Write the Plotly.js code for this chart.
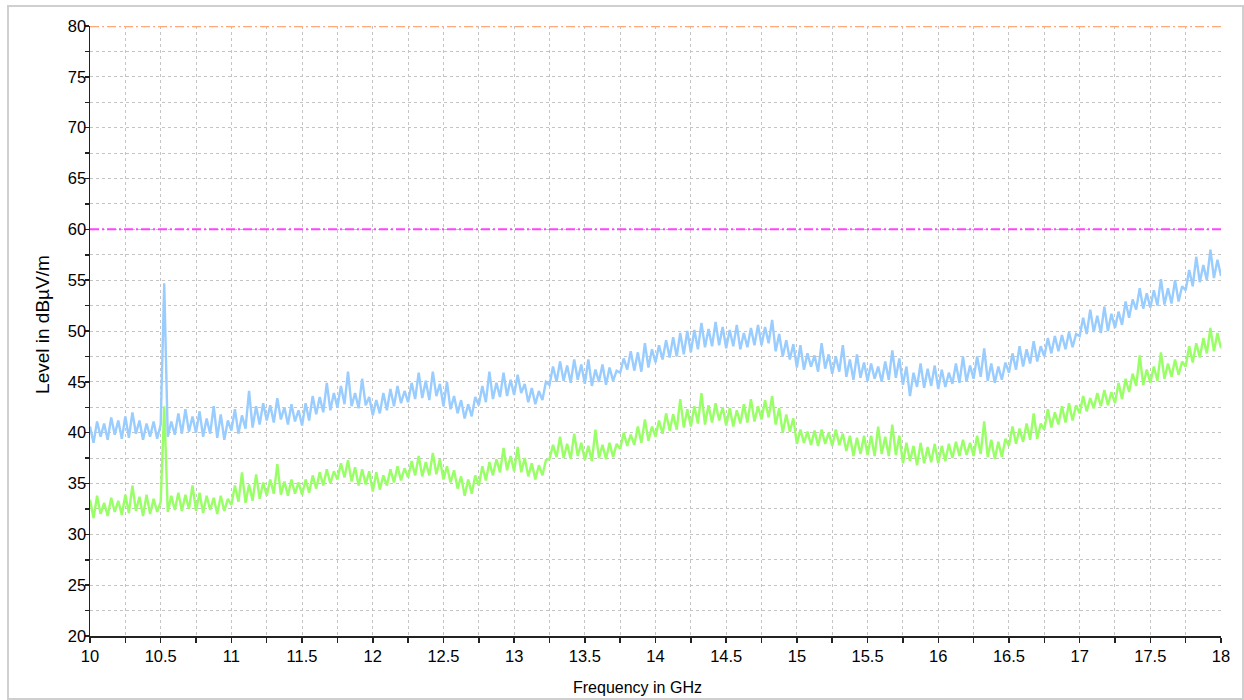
<!DOCTYPE html>
<html>
<head>
<meta charset="utf-8">
<script src="https://cdn.plot.ly/plotly-3.0.1.min.js"></script>
<style>
  html, body { margin: 0; padding: 0; background: #ffffff; }
  #wrap { position: relative; width: 1244px; height: 700px; overflow: hidden; }
  #chart { position: absolute; left: 0; top: 0; width: 1244px; height: 700px; }
  #frame { position: absolute; left: 7px; top: 5px; width: 1233px; height: 691px;
           border: 2px solid #cfcfcf; pointer-events: none; }
</style>
</head>
<body>
<div id="wrap">
  <div id="chart"></div>
  <div id="frame"></div>
</div>
<script>
// Sweep grid: 10 GHz to 18 GHz, one reading every 25 MHz
const freqStartGHz = 10;
const freqStepGHz = 0.025;

// Peak detector trace (dBµV/m), ten readings per 0.25 GHz
const peakLevel = [
  40.6, 39.0, 41.1, 39.6, 40.9, 39.3, 41.5, 39.8, 41.2, 39.4,
  41.6, 39.5, 42.0, 39.9, 41.2, 39.3, 40.9, 39.6, 41.1, 39.4,
  40.8, 54.7, 39.6, 41.1, 39.8, 41.9, 39.9, 42.3, 40.1, 41.6,
  40.0, 42.1, 39.6, 41.4, 39.9, 42.6, 39.5, 41.8, 39.3, 41.2,
  40.2, 42.3, 39.9, 41.7, 40.4, 44.1, 40.5, 42.6, 40.8, 42.9,
  41.2, 42.7, 41.0, 43.4, 41.3, 42.5, 40.8, 42.8, 41.1, 42.2,
  40.7, 42.9, 41.2, 43.6, 41.8, 43.5, 42.0, 44.9, 42.2, 43.9,
  42.5, 44.6, 42.8, 46.0, 42.6, 43.9, 42.4, 45.3, 42.7, 43.5,
  41.7, 43.2, 41.9, 43.9, 42.2, 44.3, 42.6, 44.6, 42.9, 44.1,
  43.0, 44.9, 43.3, 45.9, 43.4, 45.1, 43.2, 46.0, 43.6, 44.8,
  42.6, 45.0, 42.3, 43.6, 41.9, 43.2, 41.4, 42.8, 41.6, 43.5,
  42.7, 44.6, 43.0, 46.0, 43.3, 44.9, 43.5, 45.9, 43.6, 45.2,
  43.7, 45.7, 43.9, 44.8, 43.0, 44.4, 42.8, 44.1, 43.2, 45.0,
  44.7, 46.5, 45.0, 47.0, 45.1, 46.6, 44.9, 47.2, 45.2, 46.7,
  44.8, 47.2, 44.6, 46.2, 45.0, 46.7, 44.7, 46.4, 45.1, 46.1,
  45.9, 47.3, 46.2, 48.0, 46.1, 47.9, 46.0, 48.8, 46.4, 48.2,
  46.9, 48.6, 47.2, 49.1, 47.4, 49.4, 47.5, 49.8, 47.7, 50.0,
  47.9, 50.1, 48.2, 50.8, 48.4, 50.2, 48.5, 50.9, 48.6, 50.4,
  48.3, 50.1, 48.5, 50.6, 48.2, 49.8, 48.4, 50.3, 48.6, 50.6,
  48.6, 50.4, 48.8, 51.1, 48.0, 49.7, 47.5, 49.1, 47.2, 48.7,
  46.4, 48.6, 46.2, 47.8, 46.5, 47.6, 46.0, 48.8, 46.3, 47.7,
  45.8, 47.5, 46.0, 48.6, 45.5, 47.2, 45.2, 47.7, 45.4, 46.9,
  45.1, 46.8, 45.3, 46.5, 45.0, 47.0, 45.2, 48.1, 45.4, 47.3,
  44.7, 46.5, 43.6, 45.9, 44.5, 46.8, 44.4, 46.3, 44.6, 46.6,
  44.3, 46.2, 44.5, 45.9, 44.8, 46.8, 44.9, 47.5, 45.0, 46.6,
  45.3, 47.5, 45.5, 48.3, 45.1, 46.8, 44.9, 46.5, 45.2, 46.9,
  45.9, 47.8, 46.2, 48.5, 46.5, 48.2, 46.8, 49.0, 47.0, 48.5,
  47.5, 49.3, 47.8, 49.5, 48.0, 49.6, 48.2, 49.9, 48.4, 49.7,
  49.5, 51.3, 49.7, 52.1, 49.9, 51.5, 49.8, 52.4, 50.0, 51.7,
  50.3, 51.9, 50.6, 52.9, 51.3, 53.1, 52.1, 54.2, 52.2, 53.7,
  52.3, 54.0, 52.5, 55.1, 52.6, 54.2, 52.7, 55.0, 52.9, 54.4,
  54.0, 56.0, 54.4, 57.3, 54.8, 56.5, 55.0, 58.0, 55.2, 57.0,
  55.4
];

// Average detector trace (dBµV/m), same sweep grid
const averageLevel = [
  33.4, 31.6, 33.8, 32.0, 33.1, 31.8, 33.6, 32.2, 33.3, 31.9,
  33.9, 32.1, 34.8, 32.3, 33.7, 31.8, 33.9, 32.0, 33.5, 32.2,
  33.2, 42.6, 32.2, 33.8, 32.4, 34.1, 32.3, 33.9, 32.5, 34.8,
  32.3, 34.1, 32.1, 33.8, 32.4, 33.6, 32.0, 33.8, 32.3, 33.5,
  32.9, 34.8, 33.2, 36.1, 33.1, 34.9, 33.3, 35.9, 33.5, 35.1,
  33.8, 35.4, 34.0, 36.9, 33.9, 35.2, 33.8, 35.4, 34.0, 35.1,
  33.9, 35.4, 34.1, 35.8, 34.5, 36.1, 34.8, 36.4, 35.0, 36.2,
  35.4, 37.0, 35.6, 37.3, 35.2, 36.6, 34.8, 36.4, 34.9, 36.2,
  34.2, 36.1, 34.4, 35.8, 34.8, 36.4, 35.1, 36.7, 35.3, 36.5,
  35.6, 37.2, 35.8, 37.7, 35.7, 37.1, 35.8, 38.0, 35.9, 37.4,
  35.4, 36.7, 35.1, 36.3, 34.5, 35.7, 33.8, 35.4, 34.0, 35.8,
  34.8, 36.7, 35.3, 37.1, 35.8, 37.4, 36.1, 38.5, 36.3, 37.7,
  36.2, 38.6, 36.1, 37.5, 35.7, 37.0, 35.4, 36.8, 35.8, 37.3,
  37.4, 38.8, 37.6, 39.6, 37.5, 38.9, 37.4, 39.9, 37.7, 39.0,
  37.3, 38.7, 37.2, 40.3, 37.5, 38.8, 37.4, 39.0, 37.6, 38.9,
  38.4, 40.0, 38.7, 39.8, 38.8, 40.6, 39.0, 41.3, 39.2, 40.6,
  39.6, 41.2, 39.9, 41.9, 40.2, 41.8, 40.3, 43.3, 40.5, 42.3,
  40.6, 42.6, 40.9, 43.9, 40.8, 42.7, 41.0, 42.9, 41.2, 42.5,
  40.7, 42.4, 40.6, 42.2, 40.9, 42.8, 41.0, 43.3, 41.1, 42.6,
  41.3, 43.2, 41.5, 43.6, 40.8, 42.4, 40.0, 41.8, 40.1, 41.4,
  38.9, 40.3, 39.0, 40.1, 38.8, 40.2, 38.7, 40.3, 38.9, 40.0,
  38.7, 40.3, 38.8, 39.9, 38.2, 39.7, 37.7, 39.5, 37.9, 39.7,
  37.8, 39.7, 37.7, 40.6, 37.9, 39.6, 37.7, 40.8, 37.8, 39.7,
  37.0, 39.0, 37.2, 38.7, 36.8, 39.0, 37.0, 38.6, 37.1, 38.9,
  37.0, 38.7, 37.2, 38.9, 37.5, 39.1, 37.7, 39.3, 37.8, 39.0,
  37.7, 39.7, 37.9, 41.1, 37.6, 39.3, 37.4, 39.1, 37.6, 39.4,
  38.7, 40.6, 38.9, 40.4, 39.1, 40.9, 39.3, 41.9, 39.4, 40.9,
  40.3, 42.3, 40.5, 42.0, 40.8, 42.6, 41.0, 42.9, 41.2, 42.7,
  41.9, 43.6, 42.1, 43.4, 42.4, 43.9, 42.6, 44.2, 42.7, 44.0,
  42.9, 44.9, 43.3, 45.3, 44.0, 45.8, 44.6, 47.6, 44.7, 46.2,
  44.9, 46.5, 45.1, 47.9, 45.3, 46.8, 45.5, 47.2, 45.7, 47.0,
  46.5, 48.5, 46.9, 48.8, 47.4, 49.3, 47.8, 50.3, 48.0, 49.8,
  48.3
];

// Limit lines (dBµV/m) across the whole band
const limitFreqGHz = [10, 18];
const peakLimit = [80, 80];
const averageLimit = [60, 60];

// Axis ticks and titles
const freqTicks = [10, 10.5, 11, 11.5, 12, 12.5, 13, 13.5, 14, 14.5, 15, 15.5, 16, 16.5, 17, 17.5, 18];
const freqTickText = ['10', '10.5', '11', '11.5', '12', '12.5', '13', '13.5', '14', '14.5', '15', '15.5', '16', '16.5', '17', '17.5', '18'];
const levelTicks = [20, 25, 30, 35, 40, 45, 50, 55, 60, 65, 70, 75, 80];
const freqTitle = 'Frequency in GHz';
const levelTitle = 'Level in dBµV/m';

const freqGHz = peakLevel.map((_, i) => +(freqStartGHz + i * freqStepGHz).toFixed(4));

const font = 'Arial, "Liberation Sans", sans-serif';
const gridStyle = { showgrid: true, gridcolor: '#c4c4c4', gridwidth: 1, griddash: 'dot' };

const traces = [
  {
    x: limitFreqGHz, y: peakLimit, type: 'scatter', mode: 'lines', name: 'Peak limit',
    line: { color: '#ffa878', width: 2.5, dash: '9px,3px,2px,3px' }, hoverinfo: 'skip'
  },
  {
    x: limitFreqGHz, y: averageLimit, type: 'scatter', mode: 'lines', name: 'Average limit',
    line: { color: '#ff44ff', width: 2, dash: '9px,3px,2px,3px' }, hoverinfo: 'skip'
  },
  {
    x: freqGHz, y: peakLevel, type: 'scatter', mode: 'lines', name: 'Peak',
    line: { color: '#99ccff', width: 2.4 }
  },
  {
    x: freqGHz, y: averageLevel, type: 'scatter', mode: 'lines', name: 'Average',
    line: { color: '#99ff66', width: 2.4 }
  }
];

const layout = {
  width: 1244,
  height: 700,
  margin: { l: 90, r: 23, t: 26, b: 64 },
  paper_bgcolor: '#ffffff',
  plot_bgcolor: '#ffffff',
  showlegend: false,
  font: { family: font, size: 16, color: '#000000' },
  xaxis: Object.assign({
    range: [10, 18],
    tickmode: 'array',
    tickvals: freqTicks,
    ticktext: freqTickText,
    ticks: 'outside', ticklen: 5, tickwidth: 1.5, tickcolor: '#222',
    showline: true, linecolor: '#222', linewidth: 1.5,
    zeroline: false,
    tickfont: { family: font, size: 16.5, color: '#000' },
    minor: { dtick: 0.25, ticks: 'outside', ticklen: 5, tickwidth: 1.5, tickcolor: '#222',
             showgrid: true, gridcolor: '#c4c4c4', gridwidth: 1, griddash: 'dot' }
  }, gridStyle),
  yaxis: Object.assign({
    range: [20, 80],
    tickmode: 'array',
    tickvals: levelTicks,
    ticktext: levelTicks.map(String),
    ticks: 'outside', ticklen: 4, tickwidth: 1.5, tickcolor: '#222',
    ticklabelstandoff: -5,
    showline: true, linecolor: '#222', linewidth: 1.5,
    zeroline: false,
    tickfont: { family: font, size: 16.5, color: '#000' },
    minor: { dtick: 2.5, ticks: 'outside', ticklen: 4, tickwidth: 1.5, tickcolor: '#222',
             showgrid: true, gridcolor: '#c4c4c4', gridwidth: 1, griddash: 'dot' }
  }, gridStyle),
  annotations: [
    {
      text: freqTitle, xref: 'paper', yref: 'paper', x: 0.4845, y: -0.0852,
      xanchor: 'center', yanchor: 'middle', showarrow: false,
      font: { family: font, size: 16, color: '#000' }
    },
    {
      text: levelTitle, xref: 'paper', yref: 'paper', x: -0.0416, y: 0.5115,
      xanchor: 'center', yanchor: 'middle', textangle: -90, showarrow: false,
      font: { family: font, size: 19, color: '#000' }
    }
  ]
};

Plotly.newPlot('chart', traces, layout, { staticPlot: true, displayModeBar: false });
</script>
</body>
</html>
